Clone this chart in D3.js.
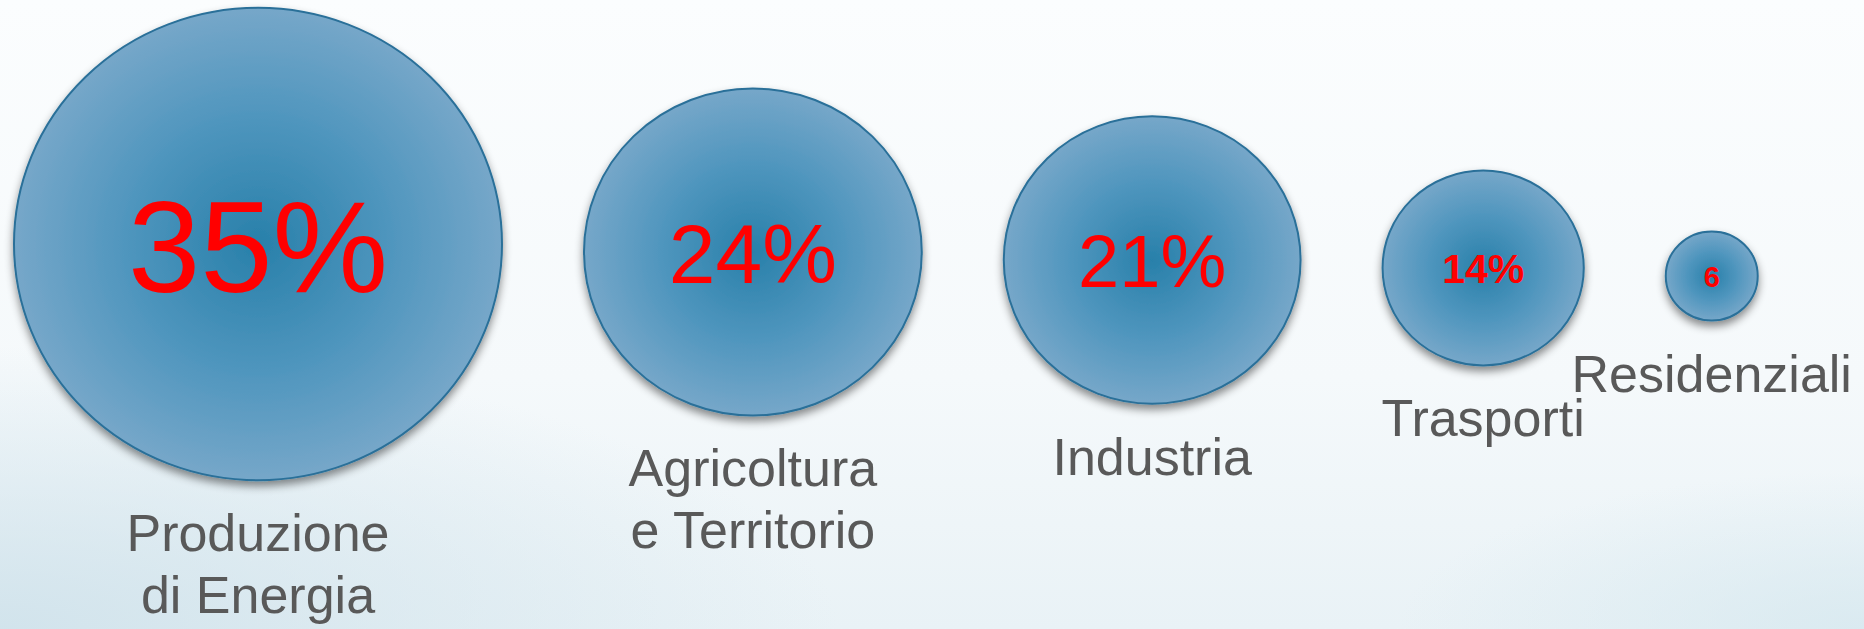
<!DOCTYPE html>
<html>
<head>
<meta charset="utf-8">
<script src="https://cdn.jsdelivr.net/npm/d3@7"></script>
<style>
  html, body { margin: 0; padding: 0; overflow: hidden; }
  svg { display: block; }
</style>
</head>
<body>
<svg id="chart" width="1864" height="629"></svg>
<script>
const categories = [
  ['Produzione', 'di Energia'],
  ['Agricoltura', 'e Territorio'],
  ['Industria'],
  ['Trasporti'],
  ['Residenziali']
];
const values = [35, 24, 21, 14, 6];
const valueLabels = ['35%', '24%', '21%', '14%', '6'];

const width = 1864;
const height = 629;
const valueFontSizes = [130, 84, 74, 41, 29];
const valueBold = [false, false, false, true, true];

const svg = d3.select('#chart');
const defs = svg.append('defs');

// background
const bg = defs.append('linearGradient')
  .attr('id', 'bg')
  .attr('x1', 0).attr('y1', 0).attr('x2', 0).attr('y2', 1);
bg.append('stop').attr('offset', '0%').attr('stop-color', '#fbfdfe');
bg.append('stop').attr('offset', '60%').attr('stop-color', '#f5f9fb');
bg.append('stop').attr('offset', '100%').attr('stop-color', '#e9f2f6');

const bgTint = defs.append('radialGradient')
  .attr('id', 'bgTint')
  .attr('cx', '0%').attr('cy', '100%').attr('r', '45%')
  .attr('gradientUnits', 'objectBoundingBox');
bgTint.append('stop').attr('offset', '0%').attr('stop-color', '#cfe2eb').attr('stop-opacity', 0.9);
bgTint.append('stop').attr('offset', '100%').attr('stop-color', '#cfe2eb').attr('stop-opacity', 0);

const bgTint2 = defs.append('radialGradient')
  .attr('id', 'bgTint2')
  .attr('cx', '100%').attr('cy', '100%').attr('r', '25%');
bgTint2.append('stop').attr('offset', '0%').attr('stop-color', '#d6e8ef').attr('stop-opacity', 0.8);
bgTint2.append('stop').attr('offset', '100%').attr('stop-color', '#d6e8ef').attr('stop-opacity', 0);

svg.append('rect').attr('width', width).attr('height', height).attr('fill', 'url(#bg)');
svg.append('rect').attr('width', width).attr('height', height).attr('fill', 'url(#bgTint)');
svg.append('rect').attr('width', width).attr('height', height).attr('fill', 'url(#bgTint2)');

// bubble fill + shadow
const fill = defs.append('radialGradient').attr('id', 'bubble');
fill.append('stop').attr('offset', '0%').attr('stop-color', '#2880aa');
fill.append('stop').attr('offset', '55%').attr('stop-color', '#5096be');
fill.append('stop').attr('offset', '100%').attr('stop-color', '#76a7c9');

const shadow = defs.append('filter')
  .attr('id', 'shadow')
  .attr('x', '-20%').attr('y', '-20%').attr('width', '140%').attr('height', '150%');
shadow.append('feDropShadow')
  .attr('dx', 0).attr('dy', 5)
  .attr('stdDeviation', 4)
  .attr('flood-color', '#000')
  .attr('flood-opacity', 0.45);

// scales
const rScale = d3.scaleLinear().domain([0, d3.max(values)]).range([5, 244]);
const yScale = d3.scaleLinear().domain([0, values.length - 1]).range([244, 276]);
const gap = 82;
const startX = 14;
const squash = 0.968;

const nodes = [];
let left = startX;
values.forEach((v, i) => {
  const r = rScale(v);
  nodes.push({
    value: v,
    label: valueLabels[i],
    lines: categories[i],
    cx: left + r,
    cy: yScale(i),
    rx: r,
    ry: r * squash,
    fontSize: valueFontSizes[i],
    bold: valueBold[i]
  });
  left += 2 * r + gap;
});

const g = svg.append('g');

g.selectAll('.bubble')
  .data(nodes)
  .enter()
  .append('ellipse')
  .attr('class', 'bubble')
  .attr('cx', d => d.cx)
  .attr('cy', d => d.cy)
  .attr('rx', d => d.rx)
  .attr('ry', d => d.ry)
  .attr('fill', 'url(#bubble)')
  .attr('stroke', '#2a7099')
  .attr('stroke-width', 2)
  .attr('filter', 'url(#shadow)');

g.selectAll('.value')
  .data(nodes)
  .enter()
  .append('text')
  .attr('class', 'value')
  .attr('x', d => d.cx)
  .attr('y', d => d.cy)
  .attr('dy', '0.37em')
  .attr('text-anchor', 'middle')
  .attr('font-family', '"Liberation Sans", Arial, sans-serif')
  .attr('font-size', d => d.fontSize)
  .attr('font-weight', d => d.bold ? 'bold' : 'normal')
  .attr('fill', '#ff0000')
  .text(d => d.label);

const labels = g.selectAll('.cat')
  .data(nodes)
  .enter()
  .append('text')
  .attr('class', 'cat')
  .attr('text-anchor', 'middle')
  .attr('font-family', '"Liberation Sans", Arial, sans-serif')
  .attr('font-size', 52)
  .attr('fill', '#595959');

labels.selectAll('tspan')
  .data(d => d.lines.map((t, j) => ({ t, j, d })))
  .enter()
  .append('tspan')
  .attr('x', o => o.d.cx)
  .attr('y', o => o.d.cy + o.d.ry + 71 + o.j * 62)
  .text(o => o.t);
</script>
</body>
</html>
